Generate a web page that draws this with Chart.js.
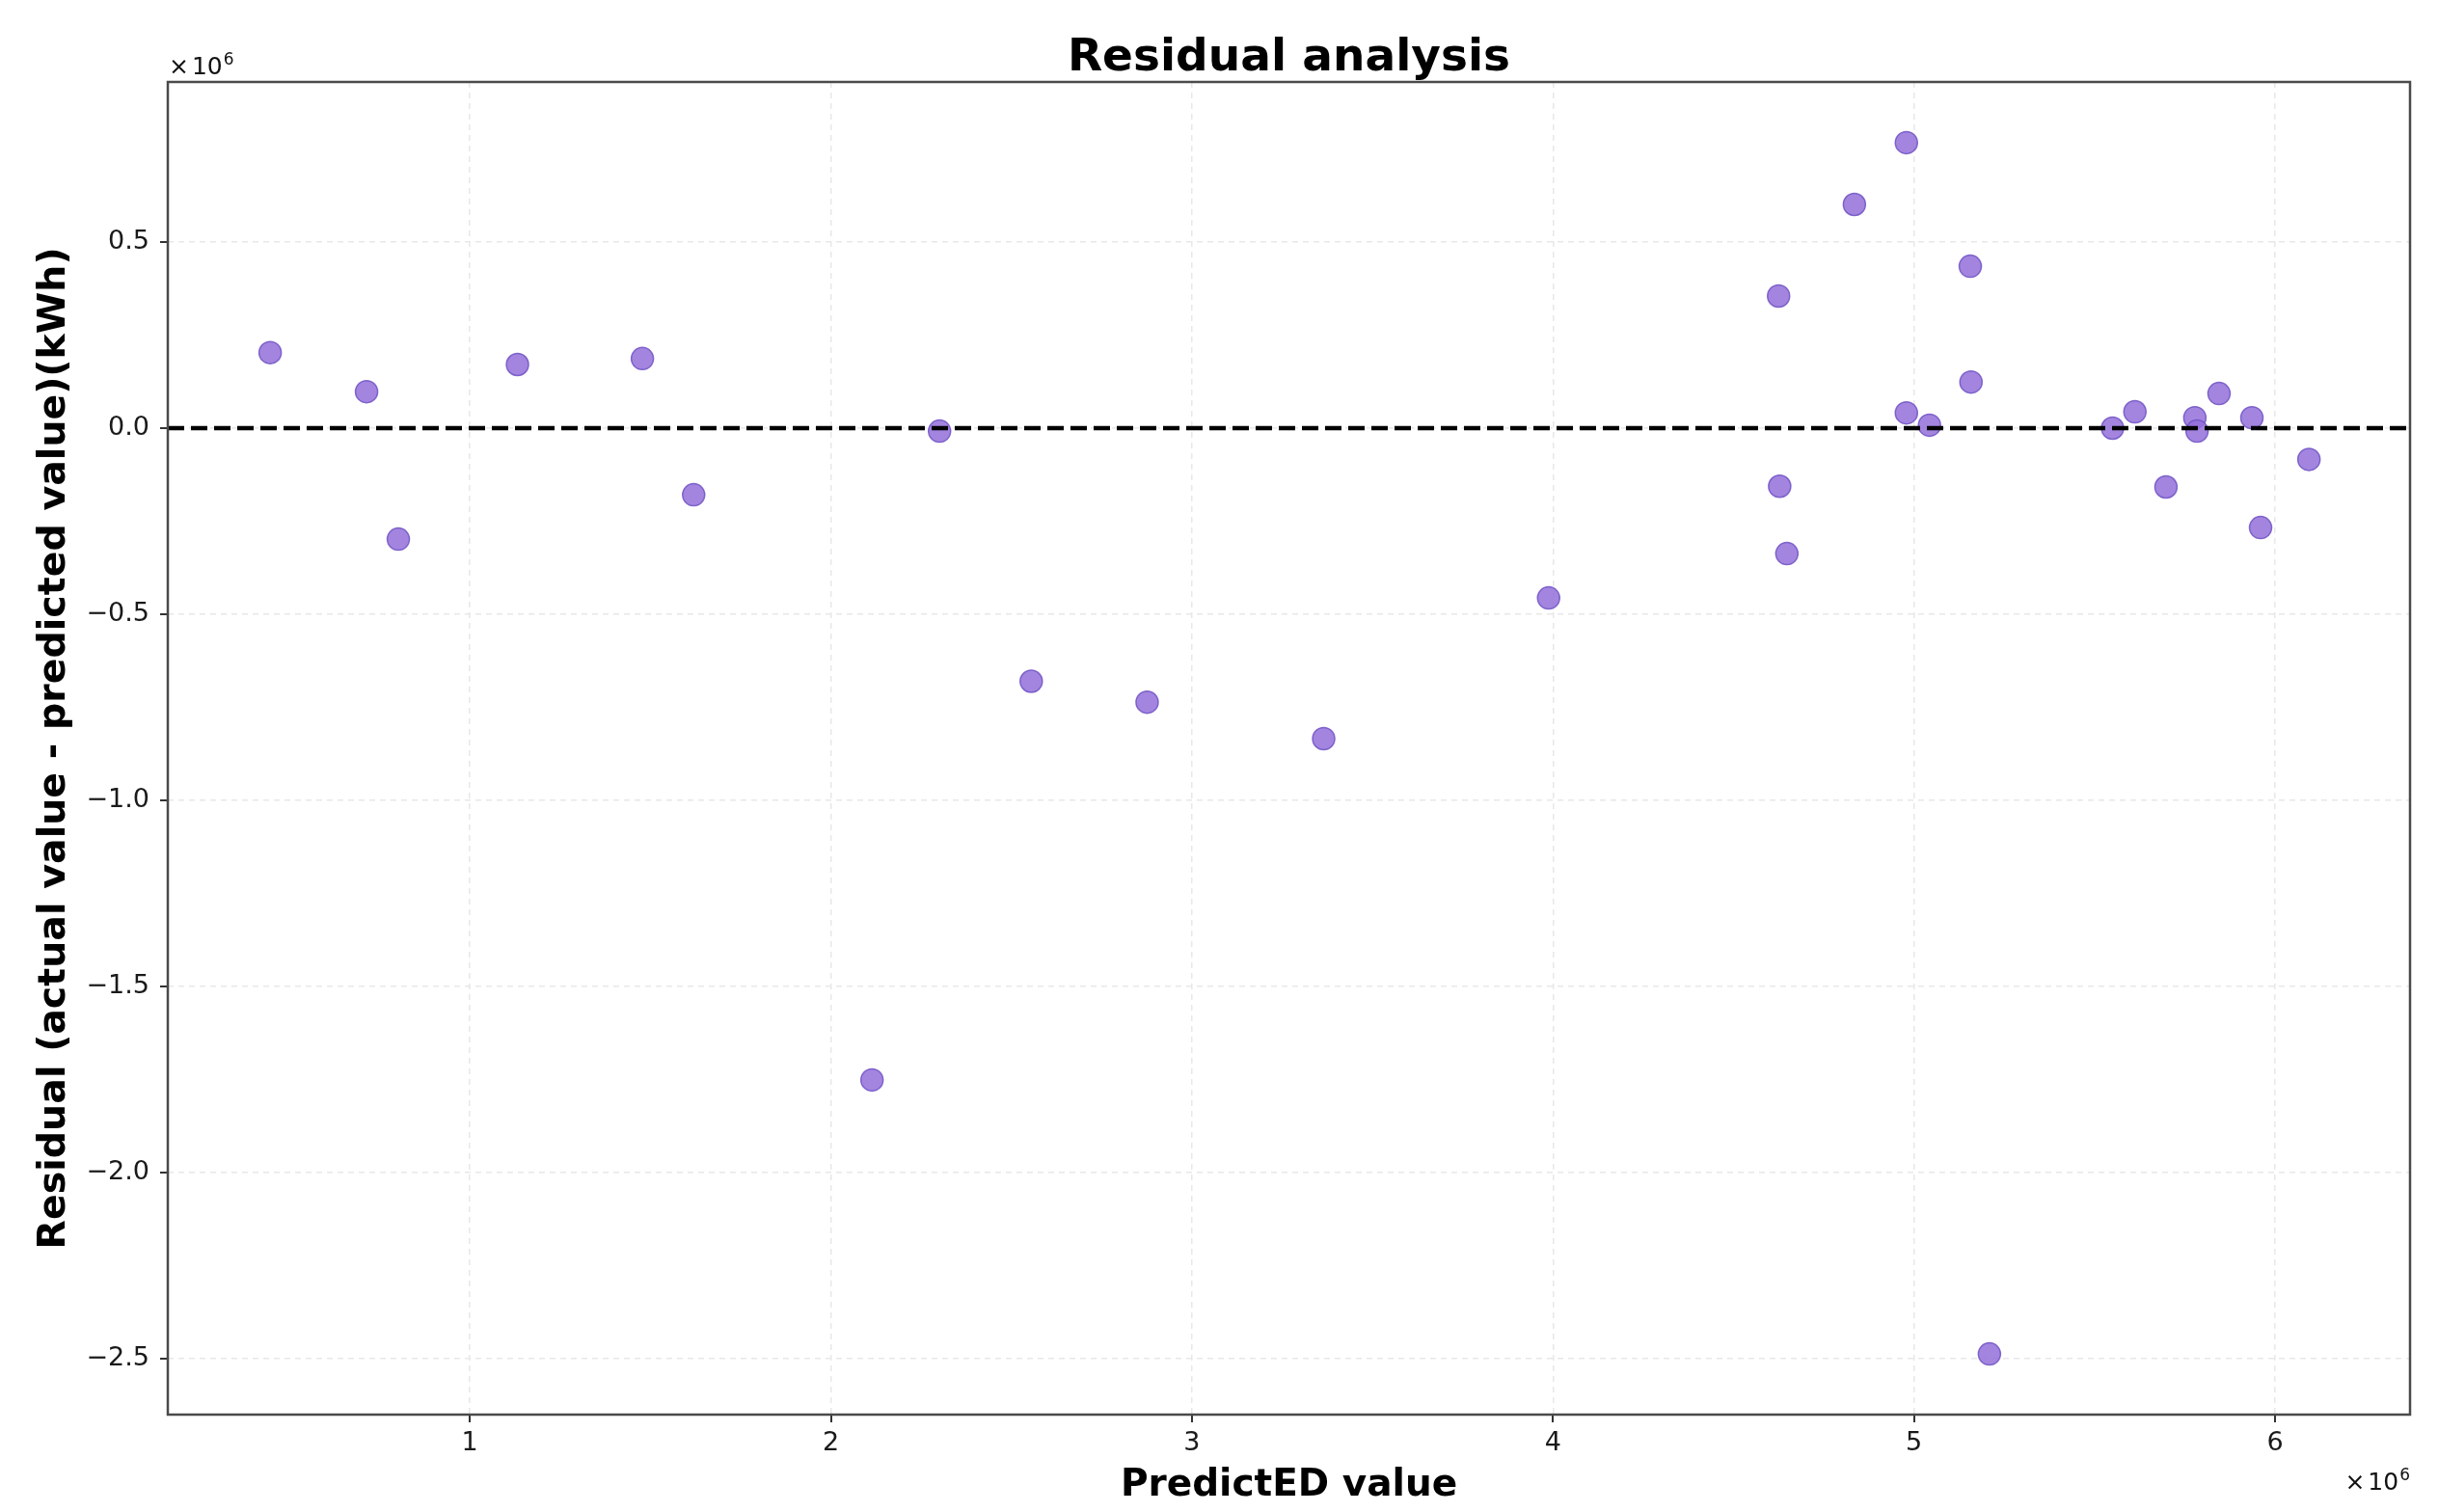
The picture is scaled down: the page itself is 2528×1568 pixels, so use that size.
<!DOCTYPE html>
<html lang="en">
<head>
  <meta charset="UTF-8">
  <title>Residual analysis</title>
  <script src="https://cdn.jsdelivr.net/npm/chart.js"></script>
  <style>
    html, body { margin: 0; padding: 0; background: #fff; }
    #wrap { width: 2528px; height: 1568px; position: relative; }
  </style>
</head>
<body>
<div id="wrap"><canvas id="residualChart"></canvas></div>
<script>
  // predicted value (kWh) and residual = actual - predicted (kWh)
  const predicted = [447000, 714000, 802000, 1132000, 1478000, 1620000, 2114000, 2301000,
    2555000, 2876000, 3365000, 3988000, 4625000, 4628000, 4648000, 4835000, 4979000, 4979000,
    5043000, 5156000, 5158000, 5209000, 5550000, 5612000, 5698000, 5778000, 5784000, 5845000,
    5936000, 5960000, 6094000];
  const residual = [203000, 98000, -298000, 171000, 187000, -179000, -1751000, -8000,
    -680000, -736000, -834000, -456000, 355000, -156000, -337000, 601000, 767000, 41000,
    8000, 435000, 124000, -2487000, 0, 44000, -158000, 28000, -8000, 93000,
    28000, -267000, -84000];

  const xRange = [163500, 6374000];
  const yRange = [-2650000, 930000];
  const xTickValues = [1000000, 2000000, 3000000, 4000000, 5000000, 6000000];
  const yTickValues = [-2500000, -2000000, -1500000, -1000000, -500000, 0, 500000];

  const titleText = 'Residual analysis';
  const xTitle = 'PredictED value';
  const yTitle = 'Residual (actual value - predicted value)(kWh)';

  const points = predicted.map((p, i) => ({ x: p, y: residual[i] }));
  const zeroLine = [{ x: xRange[0], y: 0 }, { x: xRange[1], y: 0 }];

  const FONT = '"DejaVu Sans", sans-serif';

  // draws the frame, tick marks, titles and the x10^6 offset labels
  const decorations = {
    id: 'decorations',
    afterDraw(chart) {
      const ctx = chart.ctx;
      const a = chart.chartArea;
      const xs = chart.scales.x, ys = chart.scales.y;
      ctx.save();

      ctx.strokeStyle = '#333';
      ctx.lineWidth = 2;
      ctx.beginPath();
      xs.ticks.forEach(t => {
        const px = Math.round(xs.getPixelForValue(t.value));
        ctx.moveTo(px, a.bottom);
        ctx.lineTo(px, a.bottom + 8);
      });
      ys.ticks.forEach(t => {
        const py = Math.round(ys.getPixelForValue(t.value));
        ctx.moveTo(a.left - 8, py);
        ctx.lineTo(a.left, py);
      });
      ctx.stroke();

      ctx.strokeStyle = '#4a4a4a';
      ctx.lineWidth = 2.5;
      ctx.strokeRect(a.left, a.top, a.right - a.left, a.bottom - a.top);

      const midX = (a.left + a.right) / 2;
      const midY = (a.top + a.bottom) / 2;
      ctx.fillStyle = '#000';
      ctx.textAlign = 'center';
      ctx.textBaseline = 'alphabetic';
      ctx.font = 'bold 47px ' + FONT;
      ctx.fillText(titleText, midX, 73);
      ctx.font = 'bold 39px ' + FONT;
      ctx.fillText(xTitle, midX, 1551);

      ctx.save();
      ctx.translate(67, midY);
      ctx.rotate(-Math.PI / 2);
      ctx.font = 'bold 39.5px ' + FONT;
      ctx.fillText(yTitle, 0, 0);
      ctx.restore();

      function offsetLabel(x, y, alignRight) {
        const gap = 3;
        ctx.font = '25px ' + FONT;
        const wx = ctx.measureText('\u00d7').width;
        const wb = ctx.measureText('10').width;
        ctx.font = '17px ' + FONT;
        const we = ctx.measureText('6').width;
        const total = wx + gap + wb + 1 + we;
        const start = alignRight ? x - total : x - 3;
        ctx.textAlign = 'left';
        ctx.fillStyle = '#111';
        ctx.font = '25px ' + FONT;
        ctx.fillText('\u00d7', start, y);
        ctx.fillText('10', start + wx + gap, y);
        ctx.font = '17px ' + FONT;
        ctx.fillText('6', start + wx + gap + wb + 1, y - 10);
      }
      offsetLabel(178, 77, false);
      offsetLabel(2499, 1545, true);

      ctx.restore();
    }
  };

  const tickFont = { family: FONT, size: 27 };
  const gridStyle = { color: '#e8e8e8', lineWidth: 1.5, drawTicks: false };

  const ctx = document.getElementById('residualChart').getContext('2d');
  const residualChart = new Chart(ctx, {
    type: 'scatter',
    data: {
      datasets: [
        {
          type: 'line',
          label: 'zero',
          data: zeroLine,
          borderColor: '#000',
          borderWidth: 4.5,
          borderDash: [17, 7],
          pointRadius: 0,
          fill: false,
          order: 0
        },
        {
          label: 'Residual',
          data: points,
          backgroundColor: 'rgba(147, 112, 219, 0.85)',
          borderColor: 'rgba(112, 82, 196, 0.85)',
          borderWidth: 1.5,
          pointRadius: 11.5,
          order: 1
        }
      ]
    },
    options: {
      responsive: true,
      maintainAspectRatio: false,
      animation: false,
      devicePixelRatio: 1,
      events: [],
      layout: { padding: { top: 85, right: 29, bottom: 0, left: 0 } },
      plugins: {
        legend: { display: false },
        tooltip: { enabled: false }
      },
      scales: {
        x: {
          type: 'linear',
          bounds: 'data',
          min: xRange[0],
          max: xRange[1],
          afterBuildTicks: s => { s.ticks = xTickValues.map(v => ({ value: v })); },
          afterFit: s => { s.height = 101; },
          grid: gridStyle,
          border: { display: false, dash: [6, 5] },
          ticks: {
            autoSkip: false,
            maxRotation: 0,
            padding: 14,
            color: '#1a1a1a',
            font: tickFont,
            callback: v => String(Math.round(v / 1e6))
          }
        },
        y: {
          type: 'linear',
          bounds: 'data',
          min: yRange[0],
          max: yRange[1],
          afterBuildTicks: s => { s.ticks = yTickValues.map(v => ({ value: v })); },
          afterFit: s => { s.width = 174; },
          grid: gridStyle,
          border: { display: false, dash: [6, 5] },
          ticks: {
            autoSkip: false,
            padding: 19,
            color: '#1a1a1a',
            font: tickFont,
            callback: v => (v / 1e6).toFixed(1).replace('-', '\u2212')
          }
        }
      }
    },
    plugins: [decorations]
  });
</script>
</body>
</html>
